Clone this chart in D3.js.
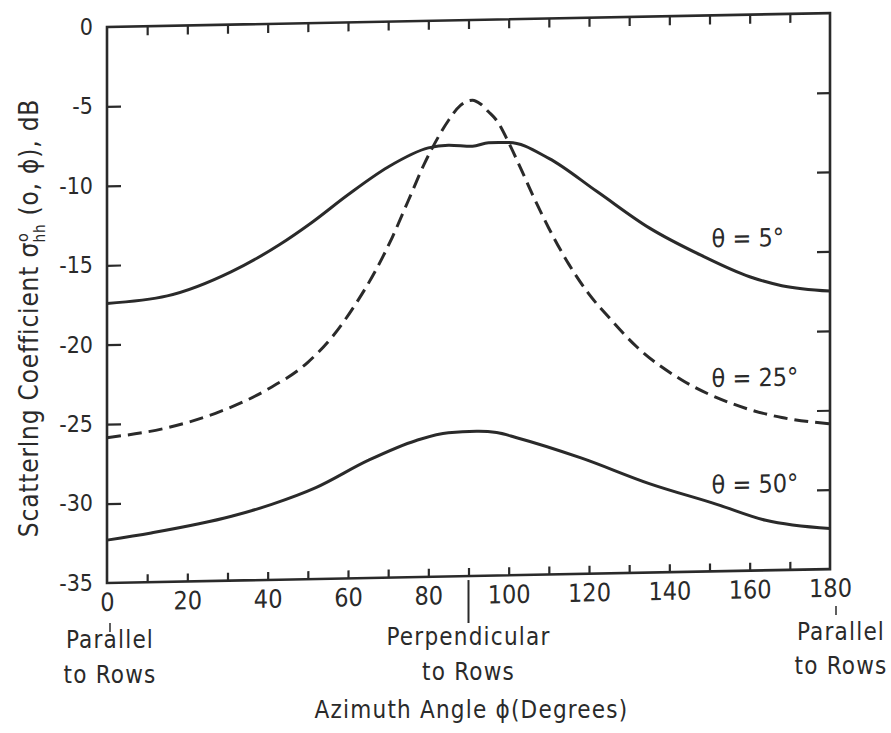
<!DOCTYPE html>
<html>
<head>
<meta charset="utf-8">
<script src="https://cdn.jsdelivr.net/npm/d3@7"></script>
<style>
  html, body { margin: 0; padding: 0; background: #fff; }
  svg { display: block; }
  text { font-family: "DejaVu Sans Condensed", "Liberation Sans Narrow", "Liberation Sans", sans-serif; fill: #2a2a2a; }
</style>
</head>
<body>
<svg id="chart" width="891" height="733"></svg>
<script>
// ---- Data ----
const phi5 = [0, 15, 31, 43, 51, 60, 70, 80, 85, 91, 95, 100, 110, 122, 135, 148, 160, 168, 180];
const sigma5 = [-17.4, -17.0, -15.55, -13.9, -12.55, -10.85, -9.15, -8.0, -7.85, -7.95, -7.75, -7.75, -8.8, -10.95, -13.3, -15.1, -16.5, -17.1, -17.5];

const phi25 = [0, 15, 27, 40, 50, 56, 62, 67, 71, 75, 79, 81, 83, 85, 88, 91, 93, 95, 97, 100, 103, 106, 110, 115, 120, 125, 132, 143, 156, 168, 180];
const sigma25 = [-25.85, -25.3, -24.45, -23.0, -21.35, -19.8, -17.7, -15.6, -13.6, -11.3, -9.0, -8.0, -7.1, -6.3, -5.36, -5.05, -5.3, -5.8, -6.35, -7.76, -9.4, -11.1, -13.2, -15.5, -17.4, -18.9, -20.8, -22.9, -24.5, -25.4, -25.85];

const phi50 = [0, 11, 31, 41, 52, 65, 77, 85, 92, 97, 102, 118, 135, 152, 164, 180];
const sigma50 = [-32.3, -31.9, -30.95, -30.25, -29.25, -27.6, -26.4, -25.95, -25.9, -26.0, -26.35, -27.7, -29.4, -30.8, -31.85, -32.45];

const seriesNames = ["θ = 5°", "θ = 25°", "θ = 50°"];
const labelAnchors = [[150.5, -14.6], [150.5, -23.4], [150.5, -30.1]];

const xTickValues = [10, 20, 30, 40, 50, 60, 70, 80, 90, 100, 110, 120, 130, 140, 150, 160, 170];
const xTickLabels = [0, 20, 40, 60, 80, 100, 120, 140, 160, 180];
const yTickValues = [-5, -10, -15, -20, -25, -30];
const yTickLabels = [0, -5, -10, -15, -20, -25, -30, -35];

// ---- Layout ----
const L = 107, R = 830, T = 27, B = 583;
const svg = d3.select("#chart");
const x = d3.scaleLinear().domain([0, 180]).range([L, R]);
const y = d3.scaleLinear().domain([0, -35]).range([T, B]);
const ink = "#2a2a2a";

// skewed plot group (the scan is slightly sheared)
const plot = svg.append("g")
  .attr("transform", `translate(${L},0) skewY(-1.1) translate(${-L},0)`);

// frame
plot.append("rect")
  .attr("x", L).attr("y", T).attr("width", R - L).attr("height", B - T)
  .attr("fill", "none").attr("stroke", ink).attr("stroke-width", 2.6);

// ticks via axes
const styleAxis = g => {
  g.select(".domain").remove();
  g.selectAll(".tick line").attr("stroke", ink).attr("stroke-width", 2.2);
};
plot.append("g").attr("transform", `translate(0,${B})`)
  .call(d3.axisBottom(x).tickValues(xTickValues).tickSize(-8).tickFormat(""))
  .call(styleAxis);
plot.append("g").attr("transform", `translate(0,${T})`)
  .call(d3.axisTop(x).tickValues(xTickValues).tickSize(-9).tickFormat(""))
  .call(styleAxis);
plot.append("g").attr("transform", `translate(${L},0)`)
  .call(d3.axisLeft(y).tickValues(yTickValues).tickSize(-14).tickFormat(""))
  .call(styleAxis);
plot.append("g").attr("transform", `translate(${R},0)`)
  .call(d3.axisRight(y).tickValues(yTickValues).tickSize(-13).tickFormat(""))
  .call(styleAxis);

// x tick labels (follow the shear)
plot.append("g").attr("transform", `translate(0,${B})`)
  .call(d3.axisBottom(x).tickValues(xTickLabels).tickSize(0).tickPadding(10).tickFormat(d3.format("d")))
  .call(g => { g.select(".domain").remove(); g.selectAll("text").attr("font-size", 25).attr("fill", ink); });

// curves
const line = d3.line().x(d => x(d[0])).y(d => y(d[1])).curve(d3.curveMonotoneX);
const series = [
  { p: phi5, s: sigma5, dash: null },
  { p: phi25, s: sigma25, dash: "14,7" },
  { p: phi50, s: sigma50, dash: null }
];
series.forEach(sr => {
  plot.append("path")
    .datum(sr.p.map((v, i) => [v, sr.s[i]]))
    .attr("d", line)
    .attr("fill", "none")
    .attr("stroke", ink)
    .attr("stroke-width", 3)
    .attr("stroke-dasharray", sr.dash);
});

// curve labels
seriesNames.forEach((n, i) => {
  plot.append("text")
    .attr("x", x(labelAnchors[i][0])).attr("y", y(labelAnchors[i][1]))
    .attr("font-size", 25)
    .text(n);
});

// y tick labels
svg.append("g").attr("transform", `translate(${L},0)`)
  .call(d3.axisLeft(y).tickValues(yTickLabels).tickSize(0).tickPadding(14).tickFormat(d => d === 0 ? "0" : "-" + Math.abs(d)))
  .call(g => { g.select(".domain").remove(); g.selectAll("text").attr("font-size", 23).attr("fill", ink); });

// y axis title
const yt = svg.append("text")
  .attr("transform", "translate(38,318) rotate(-90)")
  .attr("text-anchor", "middle")
  .attr("font-size", 26)
  .attr("letter-spacing", 0.8);
yt.append("tspan").text("Scatterlng Coefficient σ");
yt.append("tspan").attr("font-size", 16).attr("dy", -10).text("o");
yt.append("tspan").attr("font-size", 15).attr("dx", -10).attr("dy", 17).text("hh");
yt.append("tspan").attr("dy", -7).text(" (o, ϕ), dB");

// perpendicular marker below axis
svg.append("line")
  .attr("x1", x(90)).attr("x2", x(90)).attr("y1", B - 0.0192 * (x(90) - L) + 4).attr("y2", 623)
  .attr("stroke", ink).attr("stroke-width", 2);
// small marks under 0 and 180
svg.append("line").attr("x1", x(0) + 3).attr("x2", x(0) + 3).attr("y1", 623).attr("y2", 632)
  .attr("stroke", ink).attr("stroke-width", 1.5);
svg.append("line").attr("x1", x(180) + 6).attr("x2", x(180) + 6).attr("y1", 606).attr("y2", 615)
  .attr("stroke", ink).attr("stroke-width", 1.5);

// annotation text
const ann = [
  { t: "Parallel", cx: x(0) + 3, by: 648 },
  { t: "to Rows", cx: x(0) + 3, by: 683 },
  { t: "Perpendicular", cx: x(90), by: 645 },
  { t: "to Rows", cx: x(90), by: 680 },
  { t: "Parallel", cx: x(180) + 11, by: 640 },
  { t: "to Rows", cx: x(180) + 11, by: 674 },
  { t: "Azimuth Angle ϕ(Degrees)", cx: x(90) + 3, by: 718 }
];
ann.forEach(a => {
  svg.append("text").attr("x", a.cx).attr("y", a.by)
    .attr("text-anchor", "middle").attr("font-size", 24)
    .attr("letter-spacing", 1.2).text(a.t);
});
</script>
</body>
</html>
